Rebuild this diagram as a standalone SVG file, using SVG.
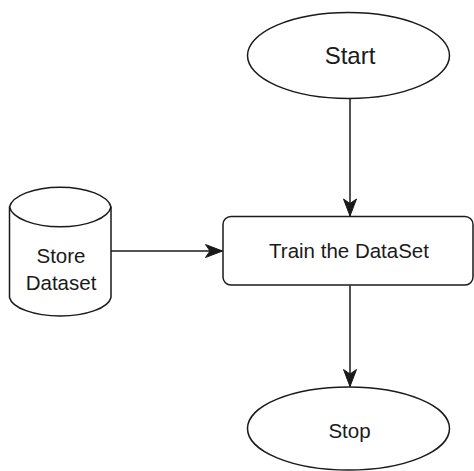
<svg xmlns="http://www.w3.org/2000/svg" width="474" height="471" viewBox="0 0 474 471">
  <style>
    .shape { fill: #ffffff; stroke: #1a1a1a; stroke-width: 1.5; }
    .edge { fill: none; stroke: #1a1a1a; stroke-width: 1.5; }
    .label { font-family: "Liberation Sans", Arial, sans-serif; fill: #1a1a1a; text-anchor: middle; }
  </style>
  <defs>
    <marker id="arrow" markerUnits="userSpaceOnUse" markerWidth="20" markerHeight="16" viewBox="-18 -8 20 16" refX="0" refY="0" orient="auto">
      <path d="M0,0 L-17,-6.5 L-12.5,0 L-17,6.5 Z" fill="#1a1a1a" stroke="#1a1a1a" stroke-width="1" stroke-linejoin="miter"/>
    </marker>
  </defs>
  <rect width="474" height="471" fill="#ffffff"/>

  <g id="connectors">
    <line class="edge" x1="350" y1="98.5" x2="350" y2="216" marker-end="url(#arrow)"/>
    <line class="edge" x1="111" y1="251" x2="222.5" y2="251" marker-end="url(#arrow)"/>
    <line class="edge" x1="350" y1="285.5" x2="350" y2="386.5" marker-end="url(#arrow)"/>
  </g>

  <g id="start">
    <ellipse class="shape" cx="348.5" cy="55.5" rx="101" ry="43"/>
    <text class="label" x="350" y="64" font-size="24">Start</text>
  </g>

  <g id="store-dataset">
    <path class="shape" d="M9.5,207 A51,22 0 0 1 111,207 L111,297.5 A51,20.5 0 0 1 9.5,297.5 Z"/>
    <path class="edge" d="M9.5,207 A51,22 0 0 0 111,207"/>
    <text class="label" x="61" y="263" font-size="20.5">Store</text>
    <text class="label" x="61" y="290" font-size="20.5">Dataset</text>
  </g>

  <g id="train">
    <rect class="shape" x="223" y="216.5" width="250" height="68.5" rx="8" ry="8"/>
    <text class="label" x="349" y="258" font-size="20.5">Train the DataSet</text>
  </g>

  <g id="stop">
    <ellipse class="shape" cx="348.5" cy="428.5" rx="101" ry="41.5"/>
    <text class="label" x="349.5" y="437.5" font-size="20.5">Stop</text>
  </g>
</svg>
